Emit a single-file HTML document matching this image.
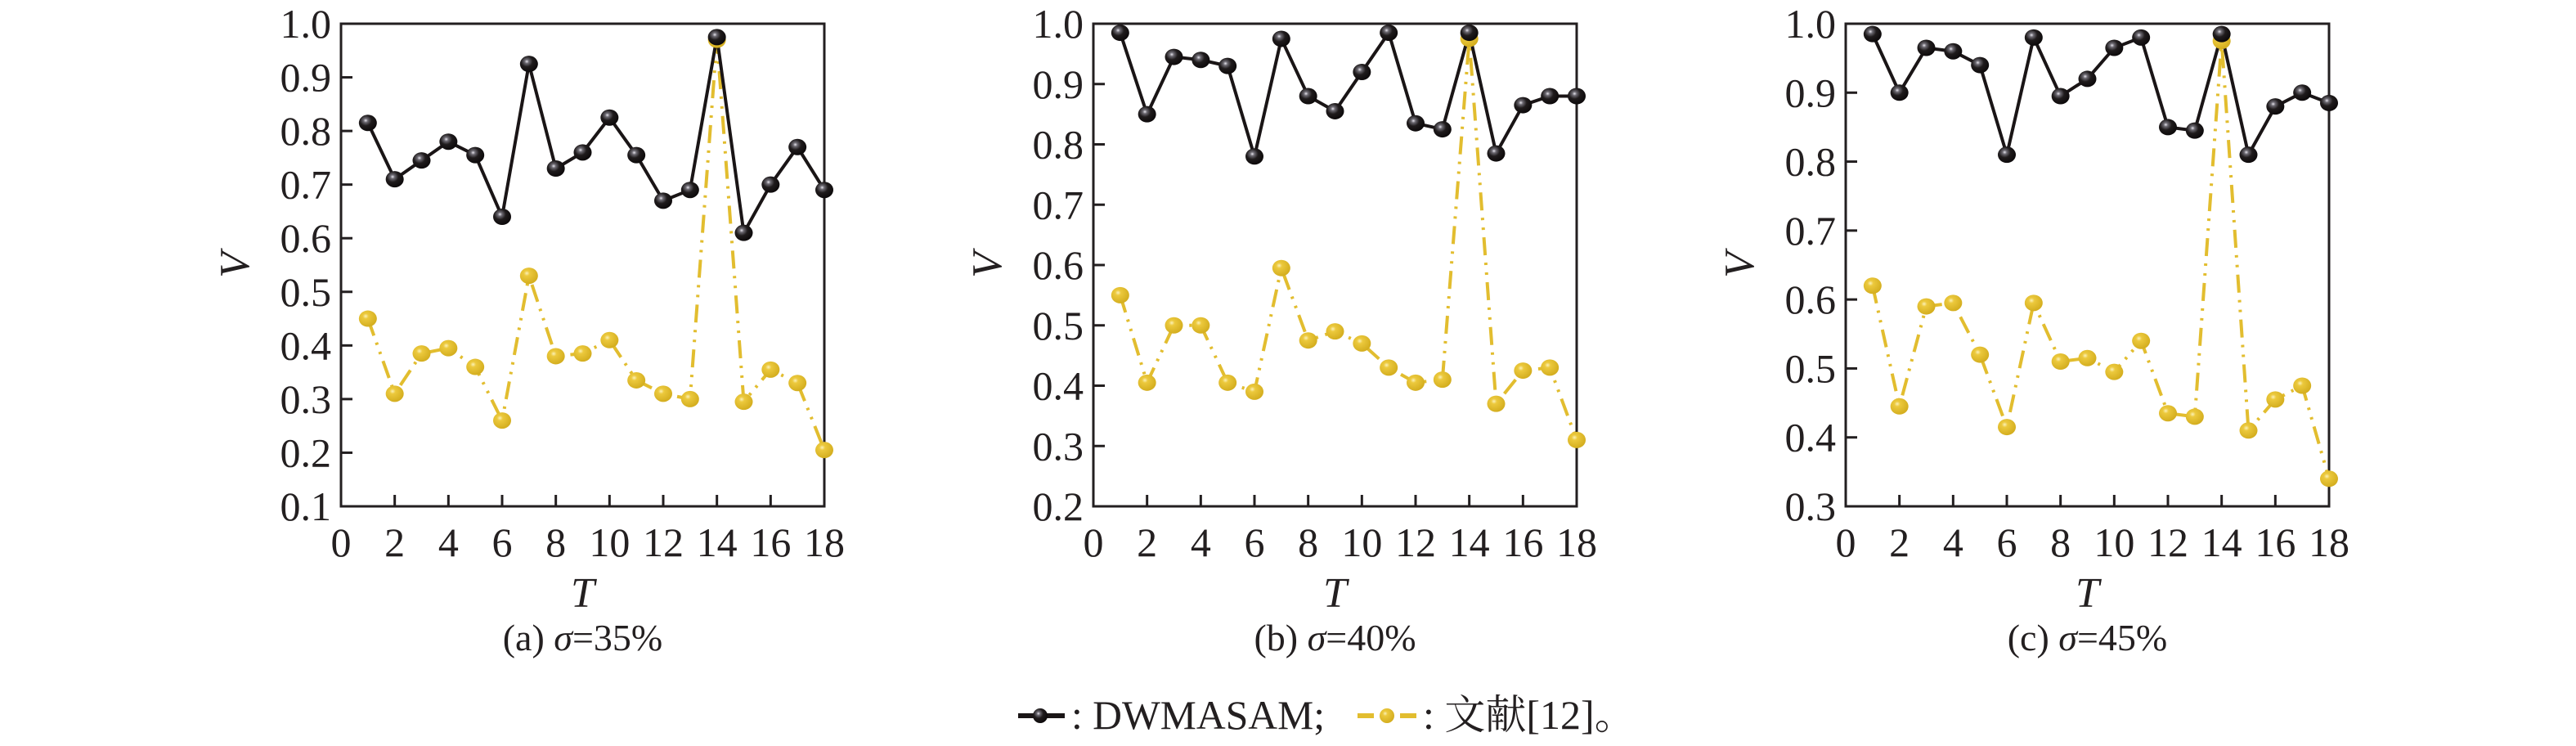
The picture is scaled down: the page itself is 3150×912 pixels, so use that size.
<!DOCTYPE html>
<html><head><meta charset="utf-8"><style>
html,body{margin:0;padding:0;background:#fff;}
svg{display:block;}
text{font-family:"Liberation Serif","Noto Serif CJK SC",serif;fill:#231f20;}
</style></head><body>
<svg id="s" width="3150" height="912" viewBox="0 0 3150 912" xmlns="http://www.w3.org/2000/svg">
<defs>
<radialGradient id="gb" cx="0.38" cy="0.35" r="0.65">
<stop offset="0" stop-color="#e8e6ee"/><stop offset="0.18" stop-color="#6d6a72"/><stop offset="0.5" stop-color="#1f1b1c"/><stop offset="1" stop-color="#0d0a0b"/>
</radialGradient>
<radialGradient id="gy" cx="0.38" cy="0.35" r="0.65">
<stop offset="0" stop-color="#fbf1b8"/><stop offset="0.25" stop-color="#ecc93d"/><stop offset="1" stop-color="#d4ae1f"/>
</radialGradient>
</defs>
</svg>
<script>
(function(){
var s=document.getElementById('s'),NS='http://www.w3.org/2000/svg';
function el(t,a,txt){var e=document.createElementNS(NS,t);for(var k in a)e.setAttribute(k,a[k]);if(txt!=null)e.textContent=txt;s.appendChild(e);return e;}
var panels=[
{x0:417,ymin:0.1,cap:'35%',lab:'(a) ',
b:[.815,.71,.745,.78,.755,.64,.925,.73,.76,.825,.755,.67,.69,.975,.61,.70,.77,.69],
y:[.45,.31,.385,.395,.36,.26,.53,.38,.385,.41,.335,.31,.30,.97,.295,.355,.33,.205]},
{x0:1337,ymin:0.2,cap:'40%',lab:'(b) ',
b:[.985,.85,.945,.94,.93,.78,.975,.88,.855,.92,.985,.835,.825,.985,.785,.865,.88,.88],
y:[.55,.405,.50,.50,.405,.39,.595,.475,.49,.47,.43,.405,.41,.975,.37,.425,.43,.31]},
{x0:2257,ymin:0.3,cap:'45%',lab:'(c) ',
b:[.985,.90,.965,.96,.94,.81,.98,.895,.92,.965,.98,.85,.845,.985,.81,.88,.90,.885],
y:[.62,.445,.59,.595,.52,.415,.595,.51,.515,.495,.54,.435,.43,.975,.41,.455,.475,.34]}];
var T0=29,B0=619,W=591;
panels.forEach(function(p){
 var X=function(t){return p.x0+t*W/18;},Y=function(v){return B0-(v-p.ymin)/(1-p.ymin)*(B0-T0);};
 el('rect',{x:p.x0,y:T0,width:W,height:B0-T0,fill:'none',stroke:'#231f20','stroke-width':3});
 var n=Math.round((1-p.ymin)*10);
 for(var i=0;i<=n;i++){var v=p.ymin+i/10,yy=Y(v);
  if(i>0&&i<n)el('line',{x1:p.x0,x2:p.x0+14,y1:yy,y2:yy,stroke:'#231f20','stroke-width':3});
  el('text',{x:p.x0-12,y:yy+17,'font-size':50,'text-anchor':'end'},v.toFixed(1));}
 for(var t=0;t<=18;t+=2){var xx=X(t);
  if(t>0&&t<18)el('line',{x1:xx,x2:xx,y1:B0,y2:B0-14,stroke:'#231f20','stroke-width':3});
  el('text',{x:xx,y:680,'font-size':50,'text-anchor':'middle'},String(t));}
 el('text',{x:0,y:0,'font-size':52,'font-style':'italic','text-anchor':'middle',transform:'translate('+(p.x0-113)+','+((T0+B0)/2)+') rotate(-90)'},'V');
 el('text',{x:p.x0+W/2,y:742,'font-size':52,'font-style':'italic','text-anchor':'middle'},'T');
 var c=el('text',{x:p.x0+W/2,y:795,'font-size':46,'text-anchor':'middle'});
 c.innerHTML=p.lab+'<tspan font-style="italic">σ</tspan>='+p.cap;
 var py=p.y.map(function(v,i){return X(i+1)+','+Y(v);}).join(' ');
 el('polyline',{points:py,fill:'none',stroke:'#e2bd2f','stroke-width':4,'stroke-dasharray':'22 9 3 9 3 9'});
 var pb=p.b.map(function(v,i){return X(i+1)+','+Y(v);}).join(' ');
 el('polyline',{points:pb,fill:'none',stroke:'#1a1516','stroke-width':4});
 p.y.forEach(function(v,i){el('ellipse',{cx:X(i+1),cy:Y(v),rx:11,ry:10,fill:'url(#gy)'});});
 p.b.forEach(function(v,i){el('ellipse',{cx:X(i+1),cy:Y(v),rx:11,ry:10,fill:'url(#gb)'});});
});
el('line',{x1:1245,x2:1302,y1:875,y2:875,stroke:'#1a1516','stroke-width':6});
el('ellipse',{cx:1272,cy:875,rx:9,ry:9,fill:'url(#gb)'});
el('text',{x:1310,y:891,'font-size':50,'textLength':310,'lengthAdjust':'spacingAndGlyphs'},': DWMASAM;');
el('line',{x1:1660,x2:1680,y1:875,y2:875,stroke:'#e2bd2f','stroke-width':6});
el('line',{x1:1712,x2:1732,y1:875,y2:875,stroke:'#e2bd2f','stroke-width':6});
el('ellipse',{cx:1696,cy:875,rx:9,ry:9,fill:'url(#gy)'});
el('text',{x:1740,y:891,'font-size':50},': 文献[12]。');
})();
</script>
</body></html>
